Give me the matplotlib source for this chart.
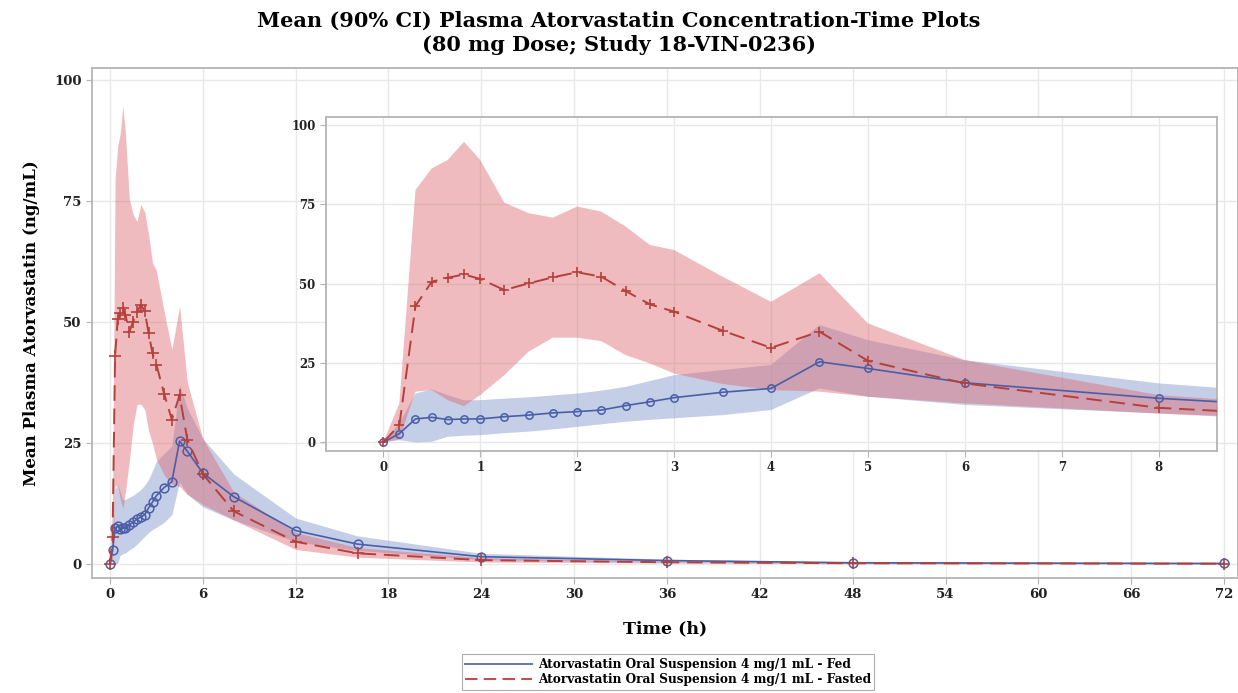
import matplotlib
matplotlib.use("Agg")
import matplotlib.pyplot as plt
import numpy as np

# ---------------- data ----------------
time_h = [0, 0.167, 0.333, 0.5, 0.667, 0.833, 1, 1.25, 1.5, 1.75, 2, 2.25, 2.5, 2.75,
          3, 3.5, 4, 4.5, 5, 6, 8, 12, 16, 24, 36, 48, 72]

fed_mean = [0, 2.8, 7.4, 7.9, 7.2, 7.4, 7.4, 8.1, 8.6, 9.3, 9.7, 10.2, 11.6, 12.8,
            14.1, 15.8, 17.0, 25.4, 23.3, 18.8, 13.9, 6.9, 4.1, 1.5, 0.7, 0.25, 0.1]
fed_lo = [0, 0.7, 0.0, 0.2, 1.8, 2.1, 2.3, 2.9, 3.4, 4.1, 4.9, 5.7, 6.5, 7.1,
          7.6, 8.6, 10.2, 17.0, 14.4, 11.8, 9.1, 4.6, 2.8, 0.9, 0.4, 0.1, 0.05]
fed_hi = [0, 6.0, 15.4, 16.7, 14.9, 13.3, 13.3, 13.8, 14.2, 14.8, 15.4, 16.3, 17.5, 19.3,
          21.2, 22.8, 24.4, 37.0, 32.2, 25.9, 18.6, 9.5, 5.8, 2.2, 1.0, 0.4, 0.2]

fasted_mean = [0, 5.5, 43.0, 50.6, 51.9, 52.9, 51.5, 48.0, 50.1, 52.0, 53.6, 52.2, 47.7, 43.5,
               41.2, 35.2, 29.8, 34.9, 25.7, 18.6, 10.9, 4.6, 2.2, 0.8, 0.35, 0.15, 0.05]
fasted_lo = [0, 1.0, 16.0, 16.5, 13.3, 11.4, 14.9, 21.2, 28.6, 33.0, 33.0, 31.9, 27.5, 24.9,
             21.7, 18.4, 16.5, 16.0, 14.4, 12.3, 9.1, 3.0, 1.4, 0.4, 0.2, 0.05, 0.02]
fasted_hi = [0, 12.3, 79.5, 86.3, 89.0, 94.7, 89.0, 75.5, 72.2, 70.8, 74.3, 72.7, 68.0, 62.2,
             60.6, 52.2, 44.3, 53.3, 37.5, 25.9, 14.9, 6.5, 3.4, 1.3, 0.5, 0.3, 0.1]

main_xticks = [0, 6, 12, 18, 24, 30, 36, 42, 48, 54, 60, 66, 72]
inset_xticks = [0, 1, 2, 3, 4, 5, 6, 7, 8]
yticks = [0, 25, 50, 75, 100]

label_fed = "Atorvastatin Oral Suspension 4 mg/1 mL - Fed"
label_fasted = "Atorvastatin Oral Suspension 4 mg/1 mL - Fasted"
title = "Mean (90% CI) Plasma Atorvastatin Concentration-Time Plots\n(80 mg Dose; Study 18-VIN-0236)"

# ---------------- style ----------------
FONT = "DejaVu Serif"
fed_line = "#4a5ea8"
fed_fill = "#8c9fd0"
fas_line = "#b5403b"
fas_fill = "#dc6a70"
grid_c = "#e8e8e8"
spine_c = "#b4b4b4"

fig = plt.figure(figsize=(12.38, 6.93), dpi=100)
W, H = 1238, 693


def px_axes(l, t, r, b):
    return fig.add_axes([l / W, 1 - b / H, (r - l) / W, (b - t) / H])


def draw(ax, ms_c, ms_p):
    ax.fill_between(time_h, fed_lo, fed_hi, color=fed_fill, alpha=0.5, lw=0, zorder=2)
    ax.fill_between(time_h, fasted_lo, fasted_hi, color=fas_fill, alpha=0.45, lw=0, zorder=3)
    ax.plot(time_h, fed_mean, color=fed_line, lw=1.2, marker="o", ms=ms_c,
            mfc="none", mec=fed_line, mew=1.1, zorder=4)
    ax.plot(time_h, fasted_mean, color=fas_line, lw=1.4, ls=(0, (8, 4)), marker="+",
            ms=ms_p, mec=fas_line, mew=1.2, zorder=5)
    ax.grid(True, color=grid_c, lw=1.0, zorder=0)
    ax.set_axisbelow(True)
    for s in ax.spines.values():
        s.set_color(spine_c)
        s.set_linewidth(1.3)
    ax.tick_params(colors="#222222", length=4, width=0.8, color=spine_c)


# main axes
ax = px_axes(92, 68, 1238, 578)
draw(ax, 6.3, 8.5)
ax.set_xlim(-1.16, 72.9)
ax.set_ylim(-2.9, 102.5)
ax.set_xticks(main_xticks)
ax.set_yticks(yticks)
for lab in ax.get_xticklabels() + ax.get_yticklabels():
    lab.set_fontfamily(FONT)
    lab.set_fontweight("bold")
    lab.set_fontsize(9.5)
ax.set_xlabel("Time (h)", fontfamily=FONT, fontweight="bold", fontsize=12.5, labelpad=14)
ax.set_ylabel("Mean Plasma Atorvastatin (ng/mL)", fontfamily=FONT, fontweight="bold",
              fontsize=12, labelpad=10)

# inset axes
ins = px_axes(326, 117, 1217, 451)
ins.set_facecolor("white")
draw(ins, 5.3, 7.5)
ins.set_xlim(-0.59, 8.6)
ins.set_ylim(-2.7, 102.5)
ins.set_xticks(inset_xticks)
ins.set_yticks(yticks)
for lab in ins.get_xticklabels() + ins.get_yticklabels():
    lab.set_fontfamily(FONT)
    lab.set_fontweight("bold")
    lab.set_fontsize(8.5)

fig.suptitle(title, fontfamily=FONT, fontweight="bold", fontsize=15, y=0.985,
             linespacing=1.3)

handles = [plt.Line2D([], [], color="#6a7bb8", lw=1.5),
           plt.Line2D([], [], color="#c0504d", lw=1.5, ls=(0, (6, 3)))]
leg = fig.legend(handles, [label_fed, label_fasted], loc="center",
                 bbox_to_anchor=(668 / W, 1 - 672 / H), frameon=True, fancybox=False,
                 prop={"family": FONT, "weight": "bold", "size": 8.7},
                 handlelength=5.5, borderpad=0.3, labelspacing=0.15, handletextpad=0.5)
leg.get_frame().set_edgecolor("#999999")
leg.get_frame().set_linewidth(0.8)

fig.savefig("out.png", dpi=100)
